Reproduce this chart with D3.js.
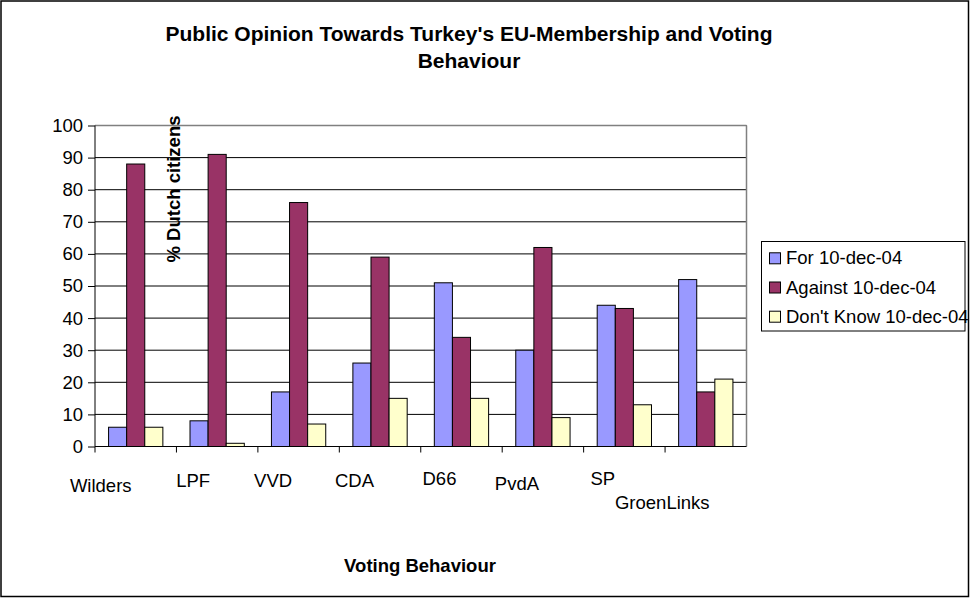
<!DOCTYPE html>
<html>
<head>
<meta charset="utf-8">
<script src="https://cdn.jsdelivr.net/npm/d3@7"></script>
<style>
  html, body { margin: 0; padding: 0; background: #fff; }
  svg { display: block; font-family: "Liberation Sans", Arial, sans-serif; }
</style>
</head>
<body>
<svg id="chart" width="970" height="598"></svg>
<script>
// ---- data ----
const categories = ["Wilders", "LPF", "VVD", "CDA", "D66", "PvdA", "SP", "GroenLinks"];
const seriesNames = ["For 10-dec-04", "Against 10-dec-04", "Don't Know 10-dec-04"];
const forValues = [6, 8, 17, 26, 51, 30, 44, 52];
const againstValues = [88, 91, 76, 59, 34, 62, 43, 17];
const dontKnowValues = [6, 1, 7, 15, 15, 9, 13, 21];
const yTicks = [0, 10, 20, 30, 40, 50, 60, 70, 80, 90, 100];
const titleLines = ["Public Opinion Towards Turkey's EU-Membership and Voting", "Behaviour"];
const yTitle = "% Dutch citizens";
const xTitle = "Voting Behaviour";

// ---- layout / style (not data) ----
const colors = ["#9999FF", "#993366", "#FFFFCC"];
const labelNudge = [[-35, 492], [-24, 486.5], [-25.5, 486.5], [-25.5, 486.5], [-22, 485], [-26, 489.5], [-21.5, 485], [-43.5, 508.5]];
const plot = { left: 95, right: 746.5, top: 125.5, bottom: 446.5 };

const seriesValues = [forValues, againstValues, dontKnowValues];
const svg = d3.select("#chart");

// outer chart border
svg.append("rect").attr("x", 1).attr("y", 1).attr("width", 967.5).attr("height", 595.5)
  .attr("fill", "#fff").attr("stroke", "#000").attr("stroke-width", 1.5);

const x = d3.scaleBand().domain(categories).range([plot.left, plot.right]).paddingInner(0).paddingOuter(0);
const xs = d3.scaleBand().domain(seriesNames).range([0, x.bandwidth()]).paddingInner(0).paddingOuter(0.75);
const y = d3.scaleLinear().domain([0, 100]).range([plot.bottom, plot.top]);

// gridlines
svg.append("g").selectAll("line").data(yTicks.filter(d => d > 0)).join("line")
  .attr("x1", plot.left).attr("x2", plot.right)
  .attr("y1", d => y(d)).attr("y2", d => y(d))
  .attr("stroke", "#000").attr("stroke-width", 1);

// plot area border (right side gray)
svg.append("line").attr("x1", plot.right).attr("x2", plot.right).attr("y1", plot.top).attr("y2", plot.bottom)
  .attr("stroke", "#808080").attr("stroke-width", 1.5);
svg.append("line").attr("x1", plot.left).attr("x2", plot.right).attr("y1", plot.top).attr("y2", plot.top)
  .attr("stroke", "#808080").attr("stroke-width", 1.5);

// bars
const groups = svg.append("g").selectAll("g").data(categories).join("g")
  .attr("transform", c => `translate(${x(c)},0)`);
groups.selectAll("rect").data((c, i) => seriesNames.map((s, j) => ({ s, j, v: seriesValues[j][i] })))
  .join("rect")
  .attr("x", d => xs(d.s)).attr("width", xs.bandwidth())
  .attr("y", d => y(d.v)).attr("height", d => y(0) - y(d.v))
  .attr("fill", d => colors[d.j]).attr("stroke", "#000").attr("stroke-width", 1);

// y axis
const yAxis = d3.axisLeft(y).tickValues(yTicks).tickSize(7).tickPadding(5).tickFormat(d3.format("d"));
const yg = svg.append("g").attr("transform", `translate(${plot.left},0)`).call(yAxis);
yg.select(".domain").attr("stroke", "#000").attr("d", `M0,${plot.top}V${plot.bottom}`);
yg.selectAll(".tick line").attr("stroke", "#000");
yg.selectAll(".tick text").attr("font-size", 18.5).attr("fill", "#000")
  .attr("font-family", "'Liberation Sans', Arial, sans-serif");

// x axis
const xg = svg.append("g");
xg.append("line").attr("x1", plot.left).attr("x2", plot.right).attr("y1", plot.bottom).attr("y2", plot.bottom)
  .attr("stroke", "#000");
const boundaries = categories.map(c => x(c)).concat([plot.right]);
xg.selectAll("line.tk").data(boundaries.slice(0, categories.length)).join("line").attr("class", "tk")
  .attr("x1", d => d).attr("x2", d => d).attr("y1", plot.bottom).attr("y2", plot.bottom + 6)
  .attr("stroke", "#000");
xg.selectAll("text").data(categories).join("text")
  .attr("x", (c, i) => x(c) + x.bandwidth() / 2 + labelNudge[i][0])
  .attr("y", (c, i) => labelNudge[i][1])
  .attr("text-anchor", "middle").attr("font-size", 18.5).attr("fill", "#000")
  .text(c => c);

// titles
svg.append("g").selectAll("text").data(titleLines).join("text")
  .attr("x", 469).attr("y", (d, i) => 41 + i * 27)
  .attr("text-anchor", "middle").attr("font-size", 21).attr("font-weight", "bold")
  .text(d => d);

svg.append("text").attr("transform", "translate(180,189) rotate(-90)")
  .attr("text-anchor", "middle").attr("font-size", 18.5).attr("font-weight", "bold")
  .text(yTitle);

svg.append("text").attr("x", 420).attr("y", 571.5)
  .attr("text-anchor", "middle").attr("font-size", 18.5).attr("font-weight", "bold")
  .text(xTitle);

// legend
const lg = svg.append("g");
lg.append("rect").attr("x", 761.5).attr("y", 241.5).attr("width", 203.5).attr("height", 89.5)
  .attr("fill", "#fff").attr("stroke", "#000").attr("stroke-width", 1);
const items = lg.selectAll("g.item").data(seriesNames).join("g").attr("class", "item")
  .attr("transform", (d, i) => `translate(0,${264.3 + i * 29.2})`);
items.append("rect").attr("x", 769.5).attr("y", -11.5).attr("width", 11).attr("height", 11)
  .attr("fill", (d, i) => colors[i]).attr("stroke", "#000").attr("stroke-width", 1);
items.append("text").attr("x", 786).attr("y", 0).attr("font-size", 18.5).attr("fill", "#000")
  .text(d => d);
</script>
</body>
</html>
